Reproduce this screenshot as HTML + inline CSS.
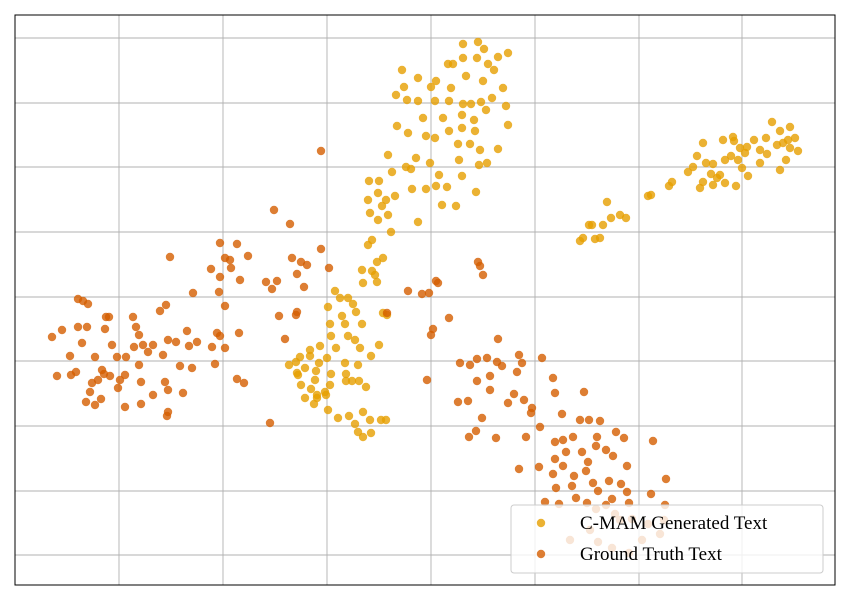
<!DOCTYPE html>
<html><head><meta charset="utf-8"><style>
html,body{margin:0;padding:0;background:#fff;}
svg{display:block;}
</style></head><body>
<svg id="chart" width="850" height="600"></svg>
<script>
// data in embedding units (axes have no tick labels)
const gridX = [119, 223, 327, 431, 535, 639, 742];
const gridY = [38, 103, 167, 232, 297, 361, 426, 491, 555];
const cmamX = [478,463,484,508,498,448,453,463,477,488,494,402,466,418,436,483,404,431,451,503,396,407,418,435,449,463,471,481,492,506,486,443,423,462,474,397,408,426,435,449,475,462,508,470,458,498,480,388,416,430,459,479,487,406,439,462,392,411,379,369,412,426,436,447,476,456,442,395,386,378,368,382,370,388,378,391,372,418,
368,383,377,372,362,375,377,363,335,340,348,328,353,356,342,330,345,362,383,387,331,348,320,336,355,360,310,379,327,310,345,371,296,319,289,305,316,346,358,331,297,301,315,330,346,311,305,317,325,352,359,366,314,328,349,338,363,370,355,381,386,358,371,363,317,300,298,326,
580,583,595,600,589,592,603,611,620,626,607,648,651,669,672,688,693,700,697,703,713,717,713,723,725,731,734,742,748,736,738,733,745,747,754,766,772,780,783,786,790,795,798,790,767,777,780,760,711,703,740,720,706,725,788,760];
const cmamY = [42,44,49,53,57,64,64,58,58,64,70,70,76,78,81,81,87,87,88,88,95,100,101,101,101,104,104,102,98,106,110,118,118,115,120,126,133,136,138,131,131,128,125,144,144,149,150,155,158,163,160,165,163,167,175,176,172,169,181,181,189,189,186,187,192,206,205,196,200,193,200,206,213,215,220,232,240,222,
245,258,262,271,270,275,282,283,291,298,298,307,304,312,316,324,324,324,313,315,336,336,346,348,340,348,350,345,358,356,363,356,362,363,365,368,371,374,365,374,373,385,380,385,381,389,398,398,392,381,381,387,404,410,416,418,412,420,424,420,420,432,433,437,395,357,375,395,
241,238,239,238,225,225,225,218,215,218,202,196,195,186,182,172,167,188,156,143,164,178,185,140,183,156,141,168,176,186,160,137,153,147,140,138,122,131,143,160,127,138,151,148,154,145,170,150,174,182,148,175,163,160,140,163];
const gtX = [52,62,57,70,71,76,78,83,78,88,82,87,95,92,90,86,95,101,98,102,106,109,105,112,104,110,117,126,118,125,120,125,133,136,139,134,143,148,153,139,141,141,153,165,168,168,167,163,168,176,180,183,160,166,187,189,192,197,212,215,217,220,225,237,244,239,193,211,219,220,220,231,230,237,248,240,225,170,266,272,277,279,274,290,292,297,301,304,297,307,321,329,285,296,270,321,225,
408,422,429,438,436,449,433,431,478,480,483,387,427,460,470,477,487,490,497,502,498,519,522,542,477,490,508,514,517,524,531,532,540,553,555,584,458,468,482,476,469,496,526,519,539,555,562,555,563,573,580,589,600,597,616,624,566,582,588,596,606,613,627,553,556,563,574,572,586,593,598,609,612,621,627,629,545,559,576,587,596,606,615,632,648,664,653,666,651,665,570,598,612,629,642,660,620,590];
const gtY = [337,330,376,356,375,372,299,301,327,304,343,327,357,383,392,402,405,399,380,370,317,317,329,345,374,376,357,357,388,375,380,407,317,327,335,347,345,352,345,365,382,404,395,382,390,412,416,355,340,342,366,393,311,305,331,346,368,342,347,364,333,336,348,379,383,333,293,269,292,277,243,268,260,244,256,280,258,257,282,289,281,316,210,224,258,274,262,287,312,265,249,268,339,315,423,151,306,
291,294,293,283,281,318,329,335,262,266,275,313,380,363,365,359,358,376,362,366,339,355,363,358,381,390,403,394,372,400,413,408,427,378,393,392,402,401,418,431,437,438,437,469,467,459,414,442,440,437,420,420,421,437,432,438,452,452,462,446,450,456,466,474,488,466,476,486,471,483,491,481,499,484,492,503,502,504,498,503,509,505,514,519,524,520,441,479,494,505,540,542,548,553,540,534,520,530];

const NS='http://www.w3.org/2000/svg';
const svg=document.getElementById('chart');
const L=15,R=835,T=15,B=585;
// identity-like linear scales from embedding domain to plot area
const xDom=[15,835], yDom=[15,585];
function xs(v){return L+(v-xDom[0])/(xDom[1]-xDom[0])*(R-L);}
function ys(v){return T+(v-yDom[0])/(yDom[1]-yDom[0])*(B-T);}
function mk(tag,attrs){const e=document.createElementNS(NS,tag);for(const k in attrs)e.setAttribute(k,attrs[k]);return e;}

const bg=mk('rect',{x:L,y:T,width:R-L,height:B-T,fill:'#fff'});


svg.appendChild(bg);
gridX.forEach(g=>{const l=mk('line',{x1:xs(g),x2:xs(g),y1:T,y2:B,stroke:'#b0b0b0','stroke-width':0.9});


svg.appendChild(l);});
gridY.forEach(g=>{const l=mk('line',{y1:ys(g),y2:ys(g),x1:L,x2:R,stroke:'#b0b0b0','stroke-width':0.9});


svg.appendChild(l);});

function series(xa,ya,color,name){
  const g=mk('g',{});
  
  
  for(let i=0;i<xa.length;i++){
    const c=mk('circle',{cx:xs(xa[i]),cy:ys(ya[i]),r:4.2,fill:color,'fill-opacity':0.8});
    
    
    g.appendChild(c);
  }
  svg.appendChild(g);
}
series(cmamX,cmamY,'#e69f00','cmam-series');
series(gtX,gtY,'#d55e00','ground-truth-series');

const frame=mk('rect',{x:L,y:T,width:R-L,height:B-T,fill:'none',stroke:'#000','stroke-width':1});


svg.appendChild(frame);

const lg=mk('g',{});


const box=mk('rect',{x:511,y:505,width:312,height:68,rx:3,fill:'#fff','fill-opacity':0.8,stroke:'#ccc'});


lg.appendChild(box);
const entries=[['C-MAM Generated Text','#e69f00',523],['Ground Truth Text','#d55e00',554]];
entries.forEach(e=>{
  const c=mk('circle',{cx:541,cy:e[2],r:4.2,fill:e[1],'fill-opacity':0.8});
  
  
  lg.appendChild(c);
  const t=mk('text',{x:580,y:e[2]+6,'font-family':'"Liberation Serif", serif','font-size':19,fill:'#000'});
  t.textContent=e[0];
  
  
  lg.appendChild(t);
});
svg.appendChild(lg);
</script>
</body></html>
